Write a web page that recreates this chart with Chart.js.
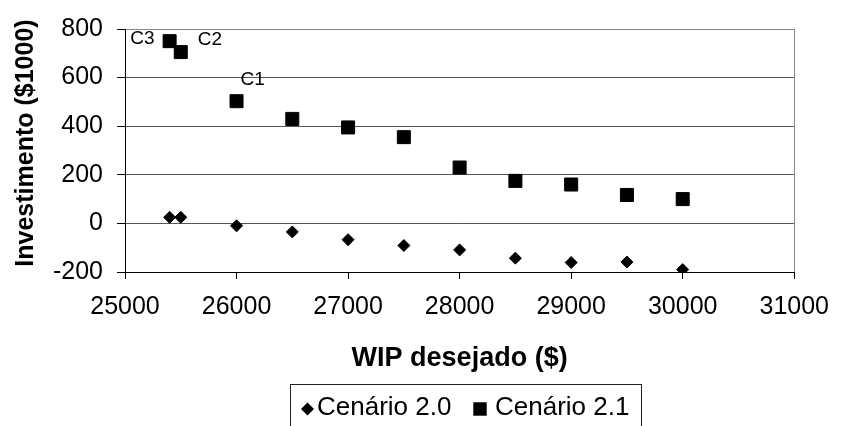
<!DOCTYPE html>
<html>
<head>
<meta charset="utf-8">
<script src="https://cdn.jsdelivr.net/npm/chart.js@4"></script>
<style>
  html, body { margin: 0; padding: 0; background: #fff; }
  canvas { display: block; }
</style>
</head>
<body>
<canvas id="grafico" width="842" height="426"></canvas>
<script>
// dados
const wip = [25400, 25500, 26000, 26500, 27000, 27500, 28000, 28500, 29000, 29500, 30000];
const cenario20 = [25, 25, -10, -35, -67, -91, -109, -143, -161, -159, -190];
const cenario21 = [750, 705, 503, 430, 395, 355, 230, 175, 160, 117, 100];
const rotulos21 = ['C3', 'C2', 'C1'];
const nomesSeries = ['Cenário 2.0', 'Cenário 2.1'];
const yTicks = [-200, 0, 200, 400, 600, 800];
const xTicks = [25000, 26000, 27000, 28000, 29000, 30000, 31000];

const fonte = '"Liberation Sans", Arial, sans-serif';

function pontos(valores) {
    return wip.map((x, i) => ({ x: x, y: valores[i] }));
}

// rotulos C3, C2, C1, titulos dos eixos e legenda
const extras = {
    id: 'extras',
    afterDatasetsDraw(chart) {
        const ctx = chart.ctx;
        const area = chart.chartArea;
        ctx.save();

        // borda cinza do lado direito
        ctx.strokeStyle = '#888';
        ctx.lineWidth = 1;
        ctx.beginPath();
        ctx.moveTo(Math.round(area.right) + 0.5, area.top);
        ctx.lineTo(Math.round(area.right) + 0.5, area.bottom);
        ctx.stroke();

        const meta = chart.getDatasetMeta(1);
        ctx.fillStyle = '#000';
        ctx.font = '19px ' + fonte;
        ctx.textBaseline = 'alphabetic';
        const desl = [[-15, 3, 'right'], [17, -7, 'left'], [4, -16, 'left']];
        rotulos21.forEach((txt, i) => {
            const p = meta.data[i];
            ctx.textAlign = desl[i][2];
            ctx.fillText(txt, p.x + desl[i][0], p.y + desl[i][1]);
        });

        // titulo eixo x
        ctx.font = 'bold 27px ' + fonte;
        ctx.textAlign = 'center';
        ctx.fillText('WIP desejado ($)', (area.left + area.right) / 2, 366);

        // titulo eixo y
        ctx.save();
        ctx.translate(33, 143);
        ctx.rotate(-Math.PI / 2);
        ctx.font = 'bold 25px ' + fonte;
        ctx.fillText('Investimento ($1000)', 0, 0);
        ctx.restore();

        // legenda
        ctx.strokeStyle = '#222';
        ctx.strokeRect(290.5, 384.5, 351, 60);
        ctx.font = '26px ' + fonte;
        ctx.textAlign = 'left';
        ctx.textBaseline = 'middle';
        const itens = [
            { simbolo: 'rectRot', raio: 6.5, sx: 307.5, tx: 317 },
            { simbolo: 'rect', raio: 9.5, sx: 480, tx: 495 }
        ];
        itens.forEach((it, i) => {
            ctx.fillStyle = '#000';
            ctx.strokeStyle = '#000';
            Chart.helpers.drawPoint(ctx, { pointStyle: it.simbolo, radius: it.raio, borderWidth: 0 }, it.sx, 409);
            ctx.fillText(nomesSeries[i], it.tx, 408);
        });

        ctx.restore();
    }
};

new Chart(document.getElementById('grafico'), {
    type: 'scatter',
    data: {
        datasets: [{
            label: nomesSeries[0],
            data: pontos(cenario20),
            pointStyle: 'rectRot',
            pointRadius: 6,
            pointHoverRadius: 6,
            backgroundColor: '#000',
            borderColor: '#000',
            borderWidth: 1
        }, {
            label: nomesSeries[1],
            data: pontos(cenario21),
            pointStyle: 'rect',
            pointRadius: 9.2,
            pointHoverRadius: 9.2,
            backgroundColor: '#000',
            borderColor: '#000',
            borderWidth: 1
        }]
    },
    options: {
        responsive: false,
        animation: false,
        devicePixelRatio: 1,
        layout: { padding: { left: 0, right: 38, top: 26, bottom: 0 } },
        plugins: {
            legend: { display: false },
            tooltip: { enabled: false }
        },
        scales: {
            x: {
                type: 'linear',
                min: 25000,
                max: 31000,
                afterBuildTicks(scale) {
                    scale.ticks = xTicks.map(v => ({ value: v }));
                },
                afterFit(scale) { scale.height = 154; },
                ticks: {
                    color: '#000',
                    font: { family: fonte, size: 25 },
                    padding: 13,
                    maxRotation: 0,
                    callback: v => String(v)
                },
                grid: {
                    drawOnChartArea: false,
                    drawTicks: true,
                    tickLength: 7,
                    tickColor: '#000'
                },
                border: { color: '#000', width: 1 }
            },
            y: {
                min: -200,
                max: 800,
                afterBuildTicks(scale) {
                    scale.ticks = yTicks.map(v => ({ value: v }));
                },
                afterFit(scale) { scale.width = 125; },
                ticks: {
                    color: '#000',
                    font: { family: fonte, size: 25 },
                    padding: 14,
                    callback: v => String(v)
                },
                grid: {
                    color: ctx => ctx.tick && ctx.tick.value === 800 ? '#888' : '#555',
                    tickLength: 8,
                    tickColor: '#000'
                },
                border: { color: '#000', width: 1 }
            }
        }
    },
    plugins: [extras]
});
</script>
</body>
</html>
